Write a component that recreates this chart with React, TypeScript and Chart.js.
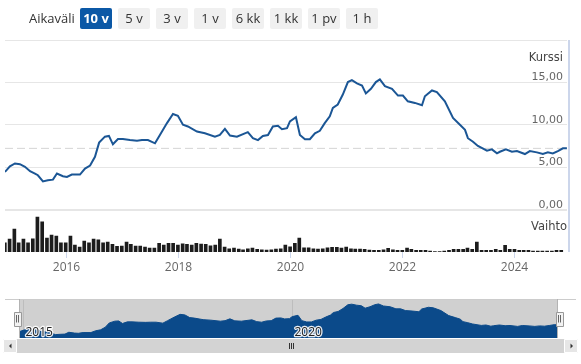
import React, { useEffect, useRef } from 'react';
import { Chart, registerables } from 'chart.js';

Chart.register(...registerables);

// ---------- data ----------
const rangeButtons = ['10 v', '5 v', '3 v', '1 v', '6 kk', '1 kk', '1 pv', '1 h'];
const selectedRange = '10 v';

const priceDates = [
  '2014-12-02', '2015-01-03', '2015-02-05', '2015-03-09', '2015-04-11', '2015-05-14', '2015-06-15', '2015-07-04', '2015-08-06', '2015-09-07',
  '2015-10-10', '2015-11-05', '2015-12-14', '2016-01-09', '2016-02-10', '2016-04-03', '2016-05-06', '2016-06-08', '2016-07-10', '2016-08-06',
  '2016-09-13', '2016-10-09', '2016-11-04', '2016-12-07', '2017-01-08', '2017-02-23', '2017-04-10', '2017-05-12', '2017-06-20', '2017-08-05',
  '2017-09-06', '2017-10-22', '2017-11-30', '2018-01-01', '2018-02-03', '2018-03-07', '2018-05-05', '2018-06-26', '2018-08-30', '2018-10-01',
  '2018-11-03', '2018-12-06', '2019-01-20', '2019-04-01', '2019-05-04', '2019-06-06', '2019-07-08', '2019-08-10', '2019-09-11', '2019-10-14',
  '2019-11-09', '2019-12-12', '2019-12-31', '2020-02-08', '2020-03-05', '2020-04-07', '2020-05-09', '2020-06-11', '2020-07-13', '2020-08-14',
  '2020-09-16', '2020-10-06', '2020-11-07', '2020-12-10', '2021-01-12', '2021-02-07', '2021-03-12', '2021-04-14', '2021-05-09', '2021-06-11',
  '2021-07-13', '2021-08-08', '2021-09-10', '2021-10-26', '2021-12-04', '2022-01-05', '2022-02-06', '2022-03-24', '2022-05-09', '2022-05-28',
  '2022-07-13', '2022-08-14', '2022-10-05', '2022-11-27', '2023-01-11', '2023-02-13', '2023-03-04', '2023-04-06', '2023-05-08', '2023-07-06',
  '2023-08-07', '2023-09-09', '2023-09-28', '2023-11-06', '2023-12-15', '2024-01-17', '2024-03-09', '2024-04-10', '2024-05-26', '2024-07-04',
  '2024-08-06', '2024-09-07', '2024-10-10', '2024-11-12', '2024-12-08',
];

const priceValues = [
  4.44, 5.10, 5.44, 5.36, 5.04, 4.52, 4.25, 4.05, 3.33, 3.45,
  3.53, 4.25, 3.93, 3.85, 4.13, 4.13, 4.84, 5.20, 6.23, 7.90,
  8.60, 8.69, 7.70, 8.33, 8.33, 8.20, 8.13, 8.20, 8.20, 7.82,
  8.80, 10.20, 11.27, 11.07, 10.00, 9.80, 9.20, 9.00, 8.60, 8.80,
  9.52, 8.73, 8.60, 9.13, 8.42, 8.20, 8.69, 8.80, 9.80, 9.88,
  9.48, 9.60, 10.40, 10.90, 8.80, 8.30, 8.30, 9.00, 9.29, 10.20,
  11.00, 12.00, 12.40, 13.57, 15.04, 15.27, 14.88, 14.64, 13.70, 14.25,
  15.04, 15.36, 14.56, 14.25, 13.45, 13.45, 12.77, 12.58, 12.30, 13.37,
  14.05, 13.85, 12.77, 10.80, 10.00, 9.40, 8.42, 8.00, 7.50, 6.94,
  7.10, 6.63, 6.82, 7.10, 6.82, 6.90, 6.55, 6.90, 6.75, 6.55,
  6.75, 6.63, 6.90, 7.22, 7.22,
];

const volumeMonths = [
  '2014-12',
  '2015-01', '2015-02', '2015-03', '2015-04', '2015-05', '2015-06', '2015-07', '2015-08', '2015-09', '2015-10', '2015-11', '2015-12',
  '2016-01', '2016-02', '2016-03', '2016-04', '2016-05', '2016-06', '2016-07', '2016-08', '2016-09', '2016-10', '2016-11', '2016-12',
  '2017-01', '2017-02', '2017-03', '2017-04', '2017-05', '2017-06', '2017-07', '2017-08', '2017-09', '2017-10', '2017-11', '2017-12',
  '2018-01', '2018-02', '2018-03', '2018-04', '2018-05', '2018-06', '2018-07', '2018-08', '2018-09', '2018-10', '2018-11', '2018-12',
  '2019-01', '2019-02', '2019-03', '2019-04', '2019-05', '2019-06', '2019-07', '2019-08', '2019-09', '2019-10', '2019-11', '2019-12',
  '2020-01', '2020-02', '2020-03', '2020-04', '2020-05', '2020-06', '2020-07', '2020-08', '2020-09', '2020-10', '2020-11', '2020-12',
  '2021-01', '2021-02', '2021-03', '2021-04', '2021-05', '2021-06', '2021-07', '2021-08', '2021-09', '2021-10', '2021-11', '2021-12',
  '2022-01', '2022-02', '2022-03', '2022-04', '2022-05', '2022-06', '2022-07', '2022-08', '2022-09', '2022-10', '2022-11', '2022-12',
  '2023-01', '2023-02', '2023-03', '2023-04', '2023-05', '2023-06', '2023-07', '2023-08', '2023-09', '2023-10', '2023-11', '2023-12',
  '2024-01', '2024-02', '2024-03', '2024-04', '2024-05', '2024-06', '2024-07', '2024-08', '2024-09', '2024-10', '2024-11',
];

// monthly traded volume (thousands of shares)
const volumeValues = [
  186,
  260, 460, 186, 260, 186, 266, 700, 606, 280, 340, 320, 186,
  186, 320, 140, 100, 220, 186, 260, 246, 186, 200, 154, 114,
  120, 200, 154, 120, 120, 100, 80, 80, 174, 140, 174, 174,
  140, 166, 154, 140, 174, 160, 154, 126, 140, 260, 100, 66,
  80, 60, 46, 66, 80, 54, 46, 40, 46, 60, 66, 140,
  106, 174, 280, 86, 86, 66, 60, 66, 86, 94, 94, 80,
  100, 66, 60, 60, 54, 40, 34, 34, 46, 74, 46, 34,
  34, 80, 54, 34, 34, 34, 20, 8, 8, 20, 34, 54,
  54, 54, 80, 54, 200, 34, 34, 34, 54, 34, 134, 54,
  54, 34, 34, 34, 20, 20, 20, 20, 20, 34, 34,
];

const priceTicks = [0, 5, 10, 15];
const yearTicks = [2016, 2018, 2020, 2022, 2024];
const navigatorYearTicks = [2015, 2020];
const priceTitle = 'Kurssi';
const volumeTitle = 'Vaihto';
const rangeLabel = 'Aikaväli';

// ---------- helpers ----------
function toYear(s: string): number {
  const parts = s.split('-').map(Number);
  const y = parts[0];
  const m = parts[1] || 1;
  const d = parts[2] || 1;
  const start = Date.UTC(y, 0, 1);
  const end = Date.UTC(y + 1, 0, 1);
  return y + (Date.UTC(y, m - 1, d) - start) / (end - start);
}

const X_MIN = 2014.918;
const X_MAX = 2024.936;

const pricePoints = priceDates.map((d, i) => ({ x: toYear(d), y: priceValues[i] }));
const volumePoints = volumeMonths.map((d, i) => ({ x: toYear(d), y: volumeValues[i] }));
const lastPrice = priceValues[priceValues.length - 1];

const fmt = (v: number) => v.toFixed(2).replace('.', ',');

const LINE_BLUE = '#1b5695';
const NAV_BLUE = '#0b4a8a';
const AXIS_BLUE = '#ccd6eb';

const mainDecor = {
  id: 'mainDecor',
  afterDraw(chart: any) {
    const { ctx, chartArea, scales } = chart;
    const yP = scales.yPrice;
    const x = scales.x;
    ctx.save();
    // right axis line
    ctx.strokeStyle = AXIS_BLUE;
    ctx.lineWidth = 2;
    ctx.beginPath();
    ctx.moveTo(chartArea.right + 2, chartArea.top);
    ctx.lineTo(chartArea.right + 2, chartArea.bottom);
    ctx.stroke();

    // price tick labels
    ctx.font = '11px "DejaVu Sans", sans-serif';
    ctx.fillStyle = '#666666';
    ctx.textAlign = 'right';
    ctx.textBaseline = 'alphabetic';
    for (const v of priceTicks) {
      const py = yP.getPixelForValue(v);
      ctx.fillText(fmt(v), chartArea.right - 4, py - 2);
    }
    // titles
    ctx.fillStyle = '#444444';
    ctx.font = '11.5px "DejaVu Sans", sans-serif';
    ctx.fillText(priceTitle, chartArea.right - 4, chartArea.top + 20.5);
    const vTop = scales.yVol.top;
    ctx.fillText(volumeTitle, chartArea.right, vTop + 20.5);

    // x ticks + labels
    ctx.strokeStyle = AXIS_BLUE;
    ctx.lineWidth = 1;
    ctx.font = '12px "Open Sans", sans-serif';
    ctx.fillStyle = '#666666';
    ctx.textAlign = 'center';
    for (const yr of yearTicks) {
      const px = Math.round(x.getPixelForValue(yr)) + 0.5;
      ctx.beginPath();
      ctx.moveTo(px, chartArea.bottom);
      ctx.lineTo(px, chartArea.bottom + 6);
      ctx.stroke();
      ctx.fillText(String(yr), px, chartArea.bottom + 18.5);
    }
    ctx.restore();
  },
};

const navDecor = {
  id: 'navDecor',
  beforeDatasetsDraw(chart: any) {
    const { ctx, chartArea, scales } = chart;
    ctx.save();
    ctx.fillStyle = '#d0d0d0';
    ctx.fillRect(chartArea.left, chartArea.top, chartArea.right - chartArea.left, chartArea.bottom - chartArea.top);
    ctx.strokeStyle = '#bdbdbd';
    ctx.lineWidth = 1;
    for (const yr of navigatorYearTicks) {
      const px = Math.round(scales.x.getPixelForValue(yr)) + 0.5;
      ctx.beginPath();
      ctx.moveTo(px, chartArea.top);
      ctx.lineTo(px, chartArea.bottom);
      ctx.stroke();
    }
    ctx.restore();
  },
  afterDraw(chart: any) {
    const { ctx, chartArea, scales } = chart;
    const { left, right, top, bottom } = chartArea;
    ctx.save();
    // outline
    ctx.strokeStyle = '#cccccc';
    ctx.lineWidth = 1;
    ctx.beginPath();
    ctx.moveTo(5, top + 0.5);
    ctx.lineTo(576, top + 0.5);
    ctx.stroke();
    ctx.strokeStyle = '#b3b3b3';
    ctx.beginPath();
    ctx.moveTo(left + 0.5, top);
    ctx.lineTo(left + 0.5, bottom);
    ctx.moveTo(right - 0.5, top);
    ctx.lineTo(right - 0.5, bottom);
    ctx.stroke();

    // year labels
    ctx.font = '12px "Open Sans", sans-serif';
    ctx.textAlign = 'left';
    ctx.textBaseline = 'alphabetic';
    ctx.lineJoin = 'round';
    for (const yr of navigatorYearTicks) {
      const px = scales.x.getPixelForValue(yr) + 2;
      ctx.strokeStyle = 'rgba(255,255,255,0.9)';
      ctx.lineWidth = 2.5;
      ctx.strokeText(String(yr), px, bottom - 2.5);
      ctx.fillStyle = '#222222';
      ctx.fillText(String(yr), px, bottom - 2.5);
    }

    // handles
    const hy = top + (bottom - top) / 2;
    for (const hx of [left - 1.5, right + 1.5]) {
      ctx.fillStyle = '#f2f2f2';
      ctx.strokeStyle = '#999999';
      ctx.lineWidth = 1;
      ctx.fillRect(Math.round(hx - 3.5) + 0.5, Math.round(hy - 7) + 0.5, 7, 14);
      ctx.strokeRect(Math.round(hx - 3.5) + 0.5, Math.round(hy - 7) + 0.5, 7, 14);
      ctx.strokeStyle = '#666666';
      ctx.beginPath();
      ctx.moveTo(Math.round(hx) - 1.5, hy - 3.5);
      ctx.lineTo(Math.round(hx) - 1.5, hy + 4);
      ctx.moveTo(Math.round(hx) + 0.5, hy - 3.5);
      ctx.lineTo(Math.round(hx) + 0.5, hy + 4);
      ctx.stroke();
    }

    // scrollbar
    const sTop = bottom + 1;
    const sH = 14;
    ctx.fillStyle = '#f2f2f2';
    ctx.fillRect(3, sTop, 575, sH);
    ctx.fillStyle = '#d3d3d3';
    ctx.fillRect(17, sTop, 547, sH);
    ctx.fillStyle = '#e6e6e6';
    ctx.fillRect(3, sTop, 14, sH);
    ctx.fillRect(564, sTop, 14, sH);
    ctx.strokeStyle = '#ffffff';
    ctx.strokeRect(3.5, sTop + 0.5, 13, sH - 1);
    ctx.strokeRect(564.5, sTop + 0.5, 13, sH - 1);
    // arrows
    ctx.fillStyle = '#333333';
    const ay = sTop + sH / 2;
    ctx.beginPath();
    ctx.moveTo(9, ay);
    ctx.lineTo(11.5, ay - 2.5);
    ctx.lineTo(11.5, ay + 2.5);
    ctx.closePath();
    ctx.fill();
    ctx.beginPath();
    ctx.moveTo(573, ay);
    ctx.lineTo(570.5, ay - 2.5);
    ctx.lineTo(570.5, ay + 2.5);
    ctx.closePath();
    ctx.fill();
    // grip
    const gx = Math.round((17 + 564) / 2);
    ctx.strokeStyle = '#333333';
    ctx.lineWidth = 1;
    ctx.beginPath();
    for (const dx of [-2, 0, 2]) {
      ctx.moveTo(gx + dx + 0.5, ay - 3);
      ctx.lineTo(gx + dx + 0.5, ay + 3);
    }
    ctx.stroke();
    ctx.restore();
  },
};

export default function App() {
  const mainRef = useRef<HTMLCanvasElement | null>(null);
  const navRef = useRef<HTMLCanvasElement | null>(null);

  useEffect(() => {
    if (!mainRef.current || !navRef.current) return;
    const main = new Chart(mainRef.current, {
      type: 'line',
      data: {
        datasets: [
          {
            type: 'line',
            label: priceTitle,
            data: pricePoints,
            yAxisID: 'yPrice',
            borderColor: LINE_BLUE,
            borderWidth: 2,
            pointRadius: 0,
            tension: 0,
            order: 1,
          },
          {
            type: 'line',
            label: 'last',
            data: [
              { x: X_MIN, y: lastPrice },
              { x: X_MAX, y: lastPrice },
            ],
            yAxisID: 'yPrice',
            borderColor: '#d4d4d4',
            borderWidth: 1,
            borderDash: [8, 4],
            pointRadius: 0,
            order: 2,
          },
          {
            type: 'bar',
            label: volumeTitle,
            data: volumePoints,
            yAxisID: 'yVol',
            backgroundColor: '#1c1c1c',
            barThickness: 3,
            order: 3,
          },
        ],
      } as any,
      options: {
        responsive: false,
        animation: false,
        events: [],
        layout: { padding: { left: 5, right: 14, top: 40, bottom: 38 } },
        plugins: { legend: { display: false }, tooltip: { enabled: false } },
        scales: {
          x: {
            type: 'linear',
            min: X_MIN,
            max: X_MAX,
            offset: false,
            display: false,
            grid: { offset: false },
          },
          yPrice: {
            type: 'linear',
            position: 'right',
            stack: 'main',
            stackWeight: 4,
            min: 0,
            max: 20,
            ticks: { display: false, stepSize: 5 },
            grid: {
              color: '#e6e6e6',
              drawTicks: false,
              lineWidth: (c: any) => (c.tick && c.tick.value === 0 ? 2 : 1),
            },
            border: { display: false },
          },
          yVol: {
            type: 'linear',
            position: 'right',
            stack: 'main',
            stackWeight: 1,
            min: 0,
            max: 850,
            ticks: { display: false },
            grid: { display: false, drawTicks: false },
            border: { display: false },
          },
        },
      } as any,
      plugins: [mainDecor],
    });

    const nav = new Chart(navRef.current, {
      type: 'line',
      data: {
        datasets: [
          {
            data: pricePoints,
            borderColor: NAV_BLUE,
            backgroundColor: NAV_BLUE,
            borderWidth: 1,
            pointRadius: 0,
            fill: 'start',
            tension: 0,
          },
        ],
      } as any,
      options: {
        responsive: false,
        animation: false,
        events: [],
        layout: { padding: { left: 19, right: 23, top: 9, bottom: 26 } },
        plugins: { legend: { display: false }, tooltip: { enabled: false } },
        scales: {
          x: { type: 'linear', min: X_MIN, max: X_MAX, display: false },
          y: { type: 'linear', min: 2, max: 17.3, display: false },
        },
      } as any,
      plugins: [navDecor],
    });

    return () => {
      main.destroy();
      nav.destroy();
    };
  }, []);

  return (
    <div
      style={{
        position: 'absolute',
        left: 0,
        top: 0,
        width: 581,
        height: 364,
        background: '#ffffff',
        fontFamily: '"Open Sans", sans-serif',
        overflow: 'hidden',
      }}
    >
      <canvas ref={mainRef} width={581} height={290} style={{ position: 'absolute', left: 0, top: 0 }} />
      <canvas ref={navRef} width={581} height={74} style={{ position: 'absolute', left: 0, top: 290 }} />
      <div
        style={{
          position: 'absolute',
          left: 29,
          top: 8,
          height: 21,
          lineHeight: '21px',
          fontSize: 13,
          color: '#333333',
        }}
      >
        {rangeLabel}
      </div>
      {rangeButtons.map((b, i) => {
        const sel = b === selectedRange;
        return (
          <div
            key={b}
            style={{
              position: 'absolute',
              left: 80 + i * 38,
              top: 8,
              width: 32,
              height: 21,
              lineHeight: '21px',
              textAlign: 'center',
              fontSize: 13,
              fontWeight: sel ? 700 : 400,
              color: sel ? '#ffffff' : '#333333',
              background: sel ? '#0b58a6' : '#f0f0f0',
              borderRadius: 2,
              whiteSpace: 'nowrap',
            }}
          >
            {b}
          </div>
        );
      })}
    </div>
  );
}
